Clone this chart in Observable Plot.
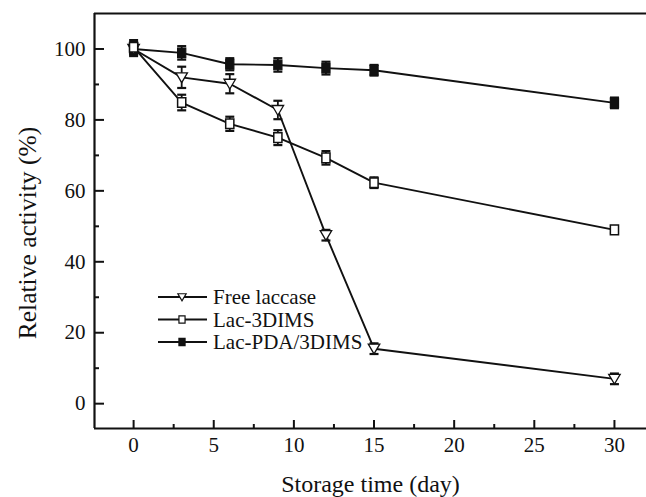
<!DOCTYPE html>
<html><head><meta charset="utf-8">
<script src="https://cdn.jsdelivr.net/npm/d3@7"></script>
<script src="https://cdn.jsdelivr.net/npm/@observablehq/plot@0.6"></script>
<style>
body{margin:0;background:#fff;}
#wrap{position:relative;width:646px;height:497px;overflow:hidden;background:#fff;}
#legend{position:absolute;left:150px;top:282px;}
</style></head><body><div id="wrap"></div>
<script>
const days = [0, 3, 6, 9, 12, 15, 30];
const seriesNames = ["Free laccase", "Lac-3DIMS", "Lac-PDA/3DIMS"];
const freeLaccase = [100, 92, 90.2, 82.8, 47.5, 15.5, 7];
const freeLaccaseErr = [1.5, 3, 2.7, 2.6, 1.5, 1.5, 1.5];
const lac3DIMS = [100.5, 84.9, 78.9, 75, 69.3, 62.3, 49];
const lac3DIMSErr = [2, 2.2, 2, 2.1, 1.9, 1.5, 1];
const lacPDA = [100, 98.9, 95.7, 95.5, 94.6, 94, 84.8];
const lacPDAErr = [2, 1.9, 1.7, 1.9, 1.8, 1.5, 1.5];
const xMajorTicks = [0, 5, 10, 15, 20, 25, 30];
const xMinorTicks = [2.5, 7.5, 12.5, 17.5, 22.5, 27.5];
const yMajorTicks = [0, 20, 40, 60, 80, 100];
const yMinorTicks = [10, 30, 50, 70, 90];
const xDomain = [-2.44, 32.0];
const yDomain = [-7, 110];
const xTitle = "Storage time (day)";
const yTitle = "Relative activity (%)";

const valuesBySeries = [freeLaccase, lac3DIMS, lacPDA];
const errBySeries = [freeLaccaseErr, lac3DIMSErr, lacPDAErr];
const rows = [];
seriesNames.forEach((s, k) => days.forEach((d, i) => rows.push({series: s, day: d, value: valuesBySeries[k][i], err: errBySeries[k][i]})));

const rOf = size => Math.sqrt(size / Math.PI);
const triDown = {draw(ctx, size){ const r = rOf(size); ctx.moveTo(-r*1.15, -r*0.9); ctx.lineTo(r*1.15, -r*0.9); ctx.lineTo(0, r*1.05); ctx.closePath(); }};
const squareSym = {draw(ctx, size){ const r = rOf(size); ctx.rect(-r*0.85, -r, r*1.7, r*2); }};
const capSym = {draw(ctx, size){ const r = rOf(size); ctx.moveTo(-r, 0); ctx.lineTo(r, 0); }};

const ink = "#111";
const serif = "'Liberation Serif', 'Times New Roman', serif";
const tickFont = 21;
const chart = Plot.plot({
  width: 646, height: 497,
  marginLeft: 94, marginRight: 0, marginTop: 13, marginBottom: 69,
  x: {domain: xDomain},
  y: {domain: yDomain},
  style: {fontFamily: serif, fontSize: tickFont + "px", color: ink, background: "#fff"},
  marks: [
    Plot.line(rows, {x: "day", y: "value", z: "series", stroke: ink, strokeWidth: 1.9}),
    Plot.ruleX(rows, {x: "day", y1: d => d.value - d.err, y2: d => d.value + d.err, stroke: ink, strokeWidth: 1.8}),
    Plot.dot(rows, {x: "day", y: d => d.value + d.err, symbol: capSym, r: 4.5, stroke: ink, strokeWidth: 2.2}),
    Plot.dot(rows, {x: "day", y: d => d.value - d.err, symbol: capSym, r: 4.5, stroke: ink, strokeWidth: 2.2}),
    Plot.dot(rows.filter(d => d.series === seriesNames[2]), {x: "day", y: "value", symbol: squareSym, r: 4.8, fill: ink, stroke: ink, strokeWidth: 1.2}),
    Plot.dot(rows.filter(d => d.series === seriesNames[0]), {x: "day", y: "value", symbol: triDown, r: 5, fill: "#fff", stroke: ink, strokeWidth: 1.3}),
    Plot.dot(rows.filter(d => d.series === seriesNames[1]), {x: "day", y: "value", symbol: squareSym, r: 4.8, fill: "#fff", stroke: ink, strokeWidth: 1.5}),
    Plot.ruleY([yDomain[1]], {stroke: ink, strokeWidth: 2.2}),
    Plot.ruleY([yDomain[0]], {stroke: ink, strokeWidth: 2.2}),
    Plot.ruleX([xDomain[0]], {stroke: ink, strokeWidth: 2.2}),
    Plot.axisX(xMajorTicks, {anchor: "bottom", tickSize: -8, tickPadding: 17, strokeWidth: 2, fontSize: tickFont, fontFamily: serif, fill: ink, label: null}),
    Plot.axisX(xMinorTicks, {anchor: "bottom", tickSize: -4, tickFormat: () => "", strokeWidth: 2, label: null}),
    Plot.axisY(yMajorTicks, {anchor: "left", tickSize: -10, tickPadding: 19, strokeWidth: 2, fontSize: tickFont, fontFamily: serif, fill: ink, label: null}),
    Plot.axisY(yMinorTicks, {anchor: "left", tickSize: -5, tickFormat: () => "", strokeWidth: 2, label: null}),
    Plot.text([xTitle], {frameAnchor: "bottom", lineAnchor: "bottom", dy: 63, fontSize: 24, fontFamily: serif, fill: ink}),
    Plot.text([yTitle], {frameAnchor: "left", textAnchor: "middle", rotate: -90, dx: -67, dy: 12, fontSize: 25.5, fontFamily: serif, fill: ink})
  ]
});
d3.select(chart).selectAll("text").each(function() {
  const t = this.textContent.trim();
  if (/^-?\d+(\.\d+)?$/.test(t)) {
    d3.select(this).attr("font-size", tickFont).attr("font-family", serif)
      .style("font-size", tickFont + "px").style("font-family", serif);
  }
});
const wrap = document.getElementById("wrap");
wrap.appendChild(chart);

// legend overlay
const legendSymbols = [triDown, squareSym, squareSym];
const legendFills = ["#fff", "#fff", ink];
const lw = 260, rowH = 22.5;
const lg = d3.create("svg").attr("id", "legend").attr("width", lw).attr("height", rowH * 3 + 10);
seriesNames.forEach((name, i) => {
  const g = lg.append("g").attr("transform", `translate(0,${15 + i * rowH})`);
  g.append("line").attr("x1", 8).attr("x2", 57).attr("stroke", ink).attr("stroke-width", 2.2);
  g.append("path").attr("d", d3.symbol(legendSymbols[i], Math.PI * 3.6 * 3.6)()).attr("transform", "translate(32,0)")
    .attr("fill", legendFills[i]).attr("stroke", ink).attr("stroke-width", 1.2);
  g.append("text").attr("x", 63).attr("dy", "0.35em").attr("font-family", serif).attr("font-size", 21).attr("fill", ink).text(name);
});
wrap.appendChild(lg.node());
</script></body></html>
